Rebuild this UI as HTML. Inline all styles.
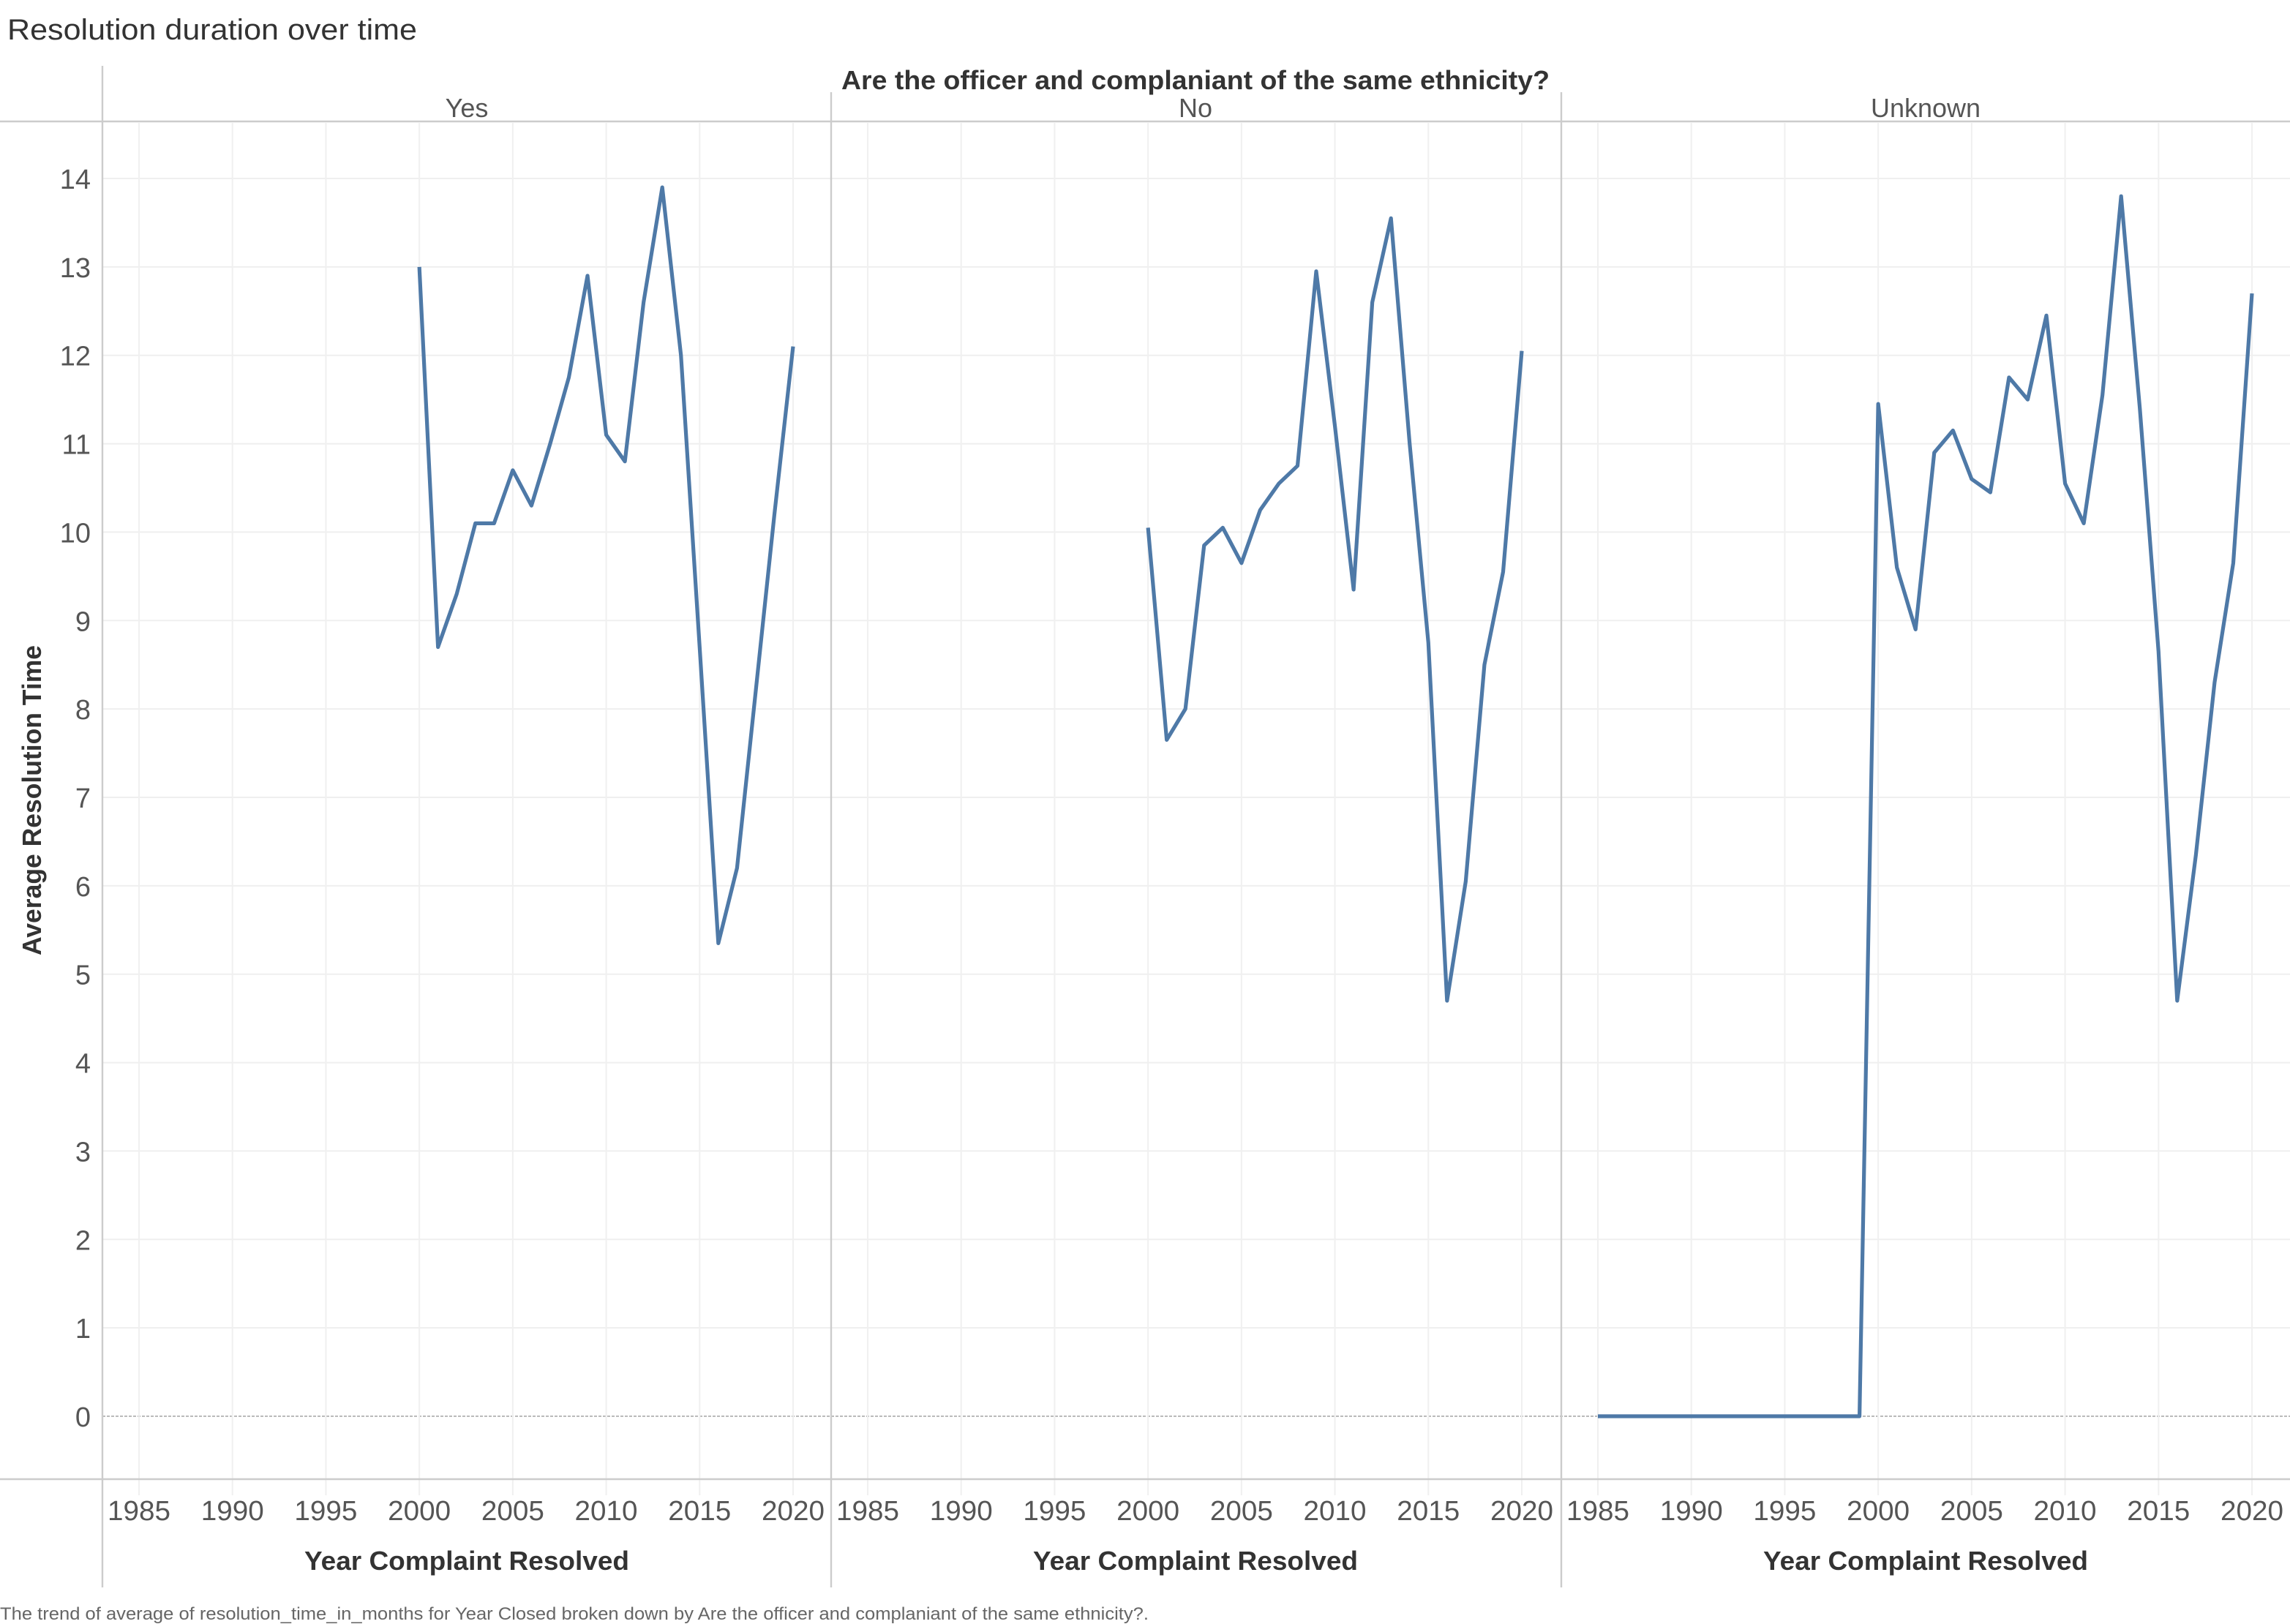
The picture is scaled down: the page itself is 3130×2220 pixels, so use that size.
<!DOCTYPE html>
<html><head><meta charset="utf-8"><style>
html,body{margin:0;padding:0;background:#fff}
svg{display:block}
text{font-family:"Liberation Sans Narrow","Liberation Sans",sans-serif}
</style></head><body>
<svg id="chart" width="3130" height="2220" viewBox="0 0 1565 1110" xmlns="http://www.w3.org/2000/svg">
<text x="5" y="27" font-size="20" fill="#333" textLength="280" lengthAdjust="spacingAndGlyphs">Resolution duration over time</text>
<text x="817" y="61" font-size="18" font-weight="bold" fill="#333" text-anchor="middle" textLength="484" lengthAdjust="spacingAndGlyphs">Are the officer and complaniant of the same ethnicity?</text>
<g id="grid"></g>
<g id="frame"></g>
<g id="marks"></g>
<text transform="translate(28,547) rotate(-90)" font-size="18" font-weight="bold" fill="#333" text-anchor="middle" textLength="212" lengthAdjust="spacingAndGlyphs">Average Resolution Time</text>
<text x="0" y="1107" font-size="12" fill="#666" textLength="785" lengthAdjust="spacingAndGlyphs">The trend of average of resolution_time_in_months for Year Closed broken down by Are the officer and complaniant of the same ethnicity?.</text>
</svg>
<script>
const panels = ["Yes","No","Unknown"];
const xTicks = [1985,1990,1995,2000,2005,2010,2015,2020];
const yTicks = [0,1,2,3,4,5,6,7,8,9,10,11,12,13,14];
const yearsYes = [2000,2001,2002,2003,2004,2005,2006,2007,2008,2009,2010,2011,2012,2013,2014,2015,2016,2017,2018,2019,2020];
const valuesYes = [13.0,8.7,9.3,10.1,10.1,10.7,10.3,11.0,11.75,12.9,11.1,10.8,12.6,13.9,12.0,8.7,5.35,6.2,8.2,10.2,12.1];
const yearsNo = [2000,2001,2002,2003,2004,2005,2006,2007,2008,2009,2010,2011,2012,2013,2014,2015,2016,2017,2018,2019,2020];
const valuesNo = [10.05,7.65,8.0,9.85,10.05,9.65,10.25,10.55,10.75,12.95,11.2,9.35,12.6,13.55,11.0,8.75,4.7,6.05,8.5,9.55,12.05];
const yearsUnknown = [1985,1999,2000,2001,2002,2003,2004,2005,2006,2007,2008,2009,2010,2011,2012,2013,2014,2015,2016,2017,2018,2019,2020];
const valuesUnknown = [0,0,11.45,9.6,8.9,10.9,11.15,10.6,10.45,11.75,11.5,12.45,10.55,10.1,11.55,13.8,11.4,8.65,4.7,6.35,8.3,9.65,12.7];

const NS="http://www.w3.org/2000/svg";
const grid=document.getElementById('grid'), frame=document.getElementById('frame'), marks=document.getElementById('marks');
const panelLeft=[70,568,1067], panelW=498;
function yPos(v){return 968 - v*(968-122)/14;}
function xPos(p,yr){return panelLeft[p]+25+(yr-1985)*(447/35);}
function mk(tag,attrs,parent){const e=document.createElementNS(NS,tag);for(const k in attrs)e.setAttribute(k,attrs[k]);parent.appendChild(e);return e;}

yTicks.forEach(v=>{
  const l=mk('line',{x1:70,x2:1565,y1:yPos(v),y2:yPos(v),stroke:v===0?'#bbb':'#efefef','stroke-width':1,'stroke-dasharray':v===0?'2,1':'none'},grid);
  
  
  const t=mk('text',{x:62,y:yPos(v)+7,'font-size':19,fill:'#555','text-anchor':'end'},grid);
  t.textContent=v;
  
  
});
const series=[[yearsYes,valuesYes],[yearsNo,valuesNo],[yearsUnknown,valuesUnknown]];
panels.forEach((name,p)=>{
  const h=mk('text',{x:panelLeft[p]+panelW/2,y:80,'font-size':18,fill:'#555','text-anchor':'middle'},frame);
  h.textContent=name;
  
  
  xTicks.forEach(yr=>{
    const g=mk('line',{x1:xPos(p,yr),x2:xPos(p,yr),y1:84,y2:1022,stroke:'#f0f0f0','stroke-width':1},grid);
    
    
    const t=mk('text',{x:xPos(p,yr),y:1039,'font-size':19,fill:'#555','text-anchor':'middle',textLength:43,lengthAdjust:'spacingAndGlyphs'},frame);
    t.textContent=yr;
    
    
  });
  const at=mk('text',{x:panelLeft[p]+panelW/2,y:1073,'font-size':18,'font-weight':'bold',fill:'#333','text-anchor':'middle',textLength:222,lengthAdjust:'spacingAndGlyphs'},frame);
  at.textContent='Year Complaint Resolved';
  
  
  const [ys,vs]=series[p];
  const d=ys.map((yr,i)=>(i?'L':'M')+xPos(p,yr).toFixed(2)+','+yPos(vs[i]).toFixed(2)).join(' ');
  const path=mk('path',{d:d,fill:'none',stroke:'#4e79a7','stroke-width':2.6,'stroke-linejoin':'round'},marks);
  
  
});
[[0,83,1565,83],[0,1011,1565,1011],[70,45,70,1085],[568,63,568,1085],[1067,63,1067,1085]].forEach(c=>{
  const l=mk('line',{x1:c[0],y1:c[1],x2:c[2],y2:c[3],stroke:'#ccc','stroke-width':1.2},frame);
  
  
});
</script>
</body></html>
